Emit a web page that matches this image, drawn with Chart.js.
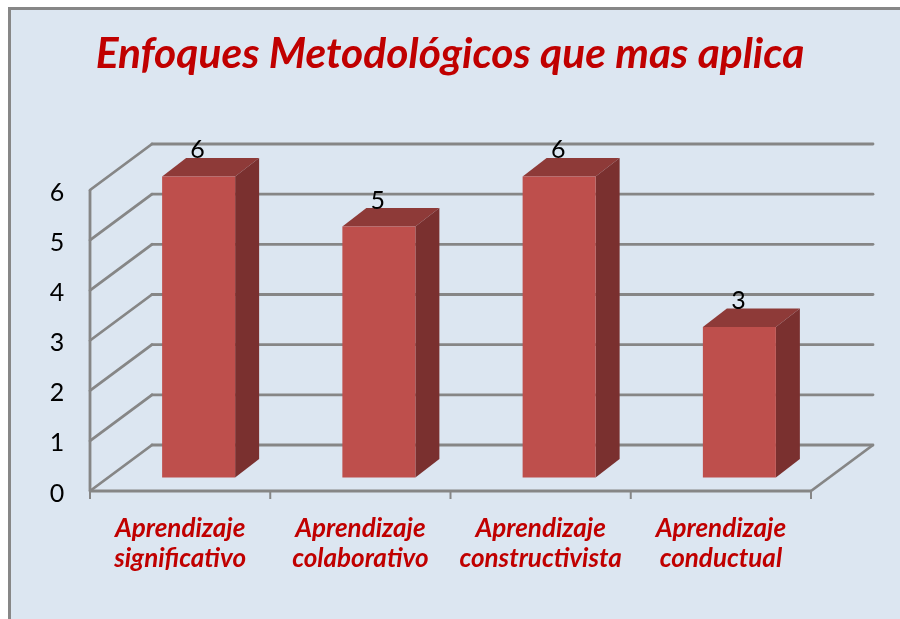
<!DOCTYPE html>
<html>
<head>
<meta charset="utf-8">
<title>Enfoques Metodológicos</title>
<style>
  html, body { margin: 0; padding: 0; background: #fff; overflow: hidden; }
  #wrap { width: 900px; height: 619px; }
</style>
</head>
<body>
<div id="wrap"><canvas id="chart" width="900" height="619"></canvas></div>
<script src="https://cdn.jsdelivr.net/npm/chart.js@4"></script>
<script>
const TITLE = "Enfoques Metodológicos que mas aplica";
const categories = [
  ["Aprendizaje", "significativo"],
  ["Aprendizaje", "colaborativo"],
  ["Aprendizaje", "constructivista"],
  ["Aprendizaje", "conductual"],
];
const values = [6, 5, 6, 3];
const yTicks = [0, 1, 2, 3, 4, 5, 6];

const RED = "#c00000";
const GRID = "#868686";
const FONT = "Lato, 'Open Sans', sans-serif";

// fake 3D: how far the back wall sits from the front plane, and the bar's place and depth
const WALL = { x: 62, y: -46 };
const BAR_SHIFT = { x: 18.5, y: -13.6 };
const BAR_DEPTH = { x: 24, y: -18.5 };

function line(ctx, x1, y1, x2, y2) {
  ctx.beginPath();
  ctx.moveTo(x1, y1);
  ctx.lineTo(x2, y2);
  ctx.stroke();
}

function poly(ctx, pts, fill) {
  ctx.fillStyle = fill;
  ctx.beginPath();
  pts.forEach((p, i) => (i ? ctx.lineTo(p[0], p[1]) : ctx.moveTo(p[0], p[1])));
  ctx.closePath();
  ctx.fill();
}

const panel = {
  id: "panel",
  beforeDraw(chart) {
    const ctx = chart.ctx;
    ctx.save();
    ctx.fillStyle = "#fff";
    ctx.fillRect(0, 0, 900, 619);
    ctx.fillStyle = "#dce6f1";
    ctx.fillRect(9, 8, 891, 611);
    ctx.fillStyle = "#878787";
    ctx.fillRect(8, 7, 892, 3);
    ctx.fillRect(8, 7, 3, 612);
    ctx.restore();
  },
};

const walls = {
  id: "walls",
  beforeDatasetsDraw(chart) {
    const ctx = chart.ctx;
    const { x: xs, y: ys } = chart.scales;
    const left = xs.left, right = xs.right;
    const y0 = ys.getPixelForValue(0);
    ctx.save();
    ctx.strokeStyle = GRID;
    ctx.lineWidth = 2.8;
    ctx.lineCap = "round";
    for (const t of yTicks) {
      const y = ys.getPixelForValue(t);
      line(ctx, left, y, left + WALL.x, y + WALL.y);
      line(ctx, left + WALL.x, y + WALL.y, right + WALL.x, y + WALL.y);
    }
    ctx.lineCap = "butt";
    line(ctx, left, ys.getPixelForValue(6), left, y0);
    line(ctx, left, y0, right, y0);
    line(ctx, right, y0, right + WALL.x, y0 + WALL.y);
    ctx.lineWidth = 2;
    for (let i = 0; i <= categories.length; i++) {
      const x = left + (right - left) * i / categories.length;
      line(ctx, x, y0, x, y0 + 8);
    }
    // tick labels sit a little under their lines in the original
    ctx.fillStyle = "#000";
    ctx.font = "25px " + FONT;
    ctx.textAlign = "center";
    ctx.textBaseline = "alphabetic";
    for (const t of yTicks) {
      ctx.fillText(t, 57, ys.getPixelForValue(t) + 10.5);
    }
    ctx.restore();
  },
};

const bars3d = {
  id: "bars3d",
  beforeDatasetDraw(chart, args) {
    const ctx = chart.ctx;
    ctx.save();
    ctx.translate(BAR_SHIFT.x, BAR_SHIFT.y);
    for (const el of args.meta.data) {
      const l = el.x - el.width / 2, r = el.x + el.width / 2;
      const dx = BAR_DEPTH.x, dy = BAR_DEPTH.y;
      poly(ctx, [[l, el.y], [r, el.y], [r + dx, el.y + dy], [l + dx, el.y + dy]], "#8e3a38");
      poly(ctx, [[r, el.y], [r + dx, el.y + dy], [r + dx, el.base + dy], [r, el.base]], "#7a302f");
    }
  },
  afterDatasetDraw(chart, args) {
    const ctx = chart.ctx;
    ctx.restore();
    ctx.save();
    ctx.fillStyle = "#000";
    ctx.font = "25px " + FONT;
    ctx.textAlign = "center";
    ctx.textBaseline = "alphabetic";
    args.meta.data.forEach((el, i) => {
      ctx.fillText(values[i], el.x + BAR_SHIFT.x - 1, el.y + BAR_SHIFT.y - 18);
    });
    ctx.restore();
  },
};

new Chart(document.getElementById("chart"), {
  type: "bar",
  data: {
    labels: categories,
    datasets: [{
      data: values,
      backgroundColor: "#be4f4c",
      borderWidth: 0,
      barPercentage: 0.405,
      categoryPercentage: 1,
      clip: false,
    }],
  },
  options: {
    responsive: false,
    animation: false,
    plugins: {
      legend: { display: false },
      tooltip: { enabled: false },
      title: {
        display: true,
        text: TITLE,
        color: RED,
        font: { family: FONT, size: 42.5, weight: "bold", style: "italic", lineHeight: 1.2 },
        padding: { top: 29, bottom: 110 },
      },
    },
    scales: {
      x: {
        grid: { display: false },
        border: { display: false },
        afterFit: (s) => { s.height = 128; },
        ticks: {
          color: RED,
          maxRotation: 0,
          autoSkip: false,
          padding: 14,
          font: { family: FONT, size: 26, weight: "bold", style: "italic", lineHeight: 1.17 },
        },
      },
      y: {
        min: 0,
        max: 6,
        grid: { display: false },
        border: { display: false },
        afterFit: (s) => { s.width = 90; },
        ticks: { stepSize: 1, display: false },
      },
      // empty axis, keeps room on the right for the back wall so the title stays centred on the page
      yRoom: {
        position: "right",
        grid: { display: false },
        border: { display: false },
        afterFit: (s) => { s.width = 89; },
        ticks: { display: false },
      },
    },
  },
  plugins: [panel, walls, bars3d],
});
</script>
</body>
</html>
